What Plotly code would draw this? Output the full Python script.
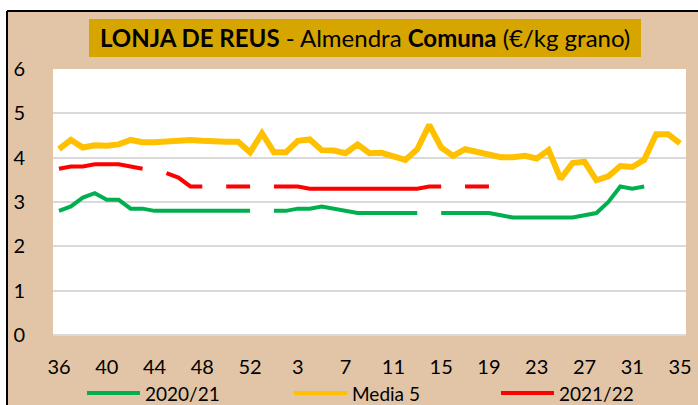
import plotly.graph_objects as go

# Semanas de campaña (36..53 de un año, 1..35 del siguiente)
weeks = ["36", "37", "38", "39", "40", "41", "42", "43", "44", "45", "46", "47",
         "48", "49", "50", "51", "52", "53", "1", "2", "3", "4", "5", "6", "7",
         "8", "9", "10", "11", "12", "13", "14", "15", "16", "17", "18", "19",
         "20", "21", "22", "23", "24", "25", "26", "27", "28", "29", "30", "31",
         "32", "33", "34", "35"]
tick_weeks = ["36", "40", "44", "48", "52", "3", "7", "11", "15", "19", "23",
              "27", "31", "35"]

# €/kg grano
c2020_21 = [2.80, 2.90, 3.10, 3.20, 3.05, 3.05, 2.85, 2.85, 2.80, 2.80, 2.80,
            2.80, 2.80, 2.80, 2.80, 2.80, 2.80, None, 2.80, 2.80, 2.85, 2.85,
            2.90, 2.85, 2.80, 2.75, 2.75, 2.75, 2.75, 2.75, 2.75, None, 2.75,
            2.75, 2.75, 2.75, 2.75, 2.70, 2.65, 2.65, 2.65, 2.65, 2.65, 2.65,
            2.70, 2.75, 3.00, 3.35, 3.30, 3.35, None, None, None]
media5 = [4.19, 4.40, 4.23, 4.28, 4.27, 4.30, 4.40, 4.35, 4.35, 4.37, 4.39,
          4.40, 4.38, 4.36, 4.36, 4.36, 4.12, 4.55, 4.12, 4.12, 4.38, 4.41,
          4.17, 4.16, 4.10, 4.30, 4.10, 4.11, 4.04, 3.95, 4.19, 4.74, 4.23,
          4.04, 4.19, 4.13, 4.06, 4.01, 4.01, 4.04, 3.98, 4.17, 3.52, 3.88,
          3.91, 3.49, 3.58, 3.81, 3.79, 3.95, 4.53, 4.53, 4.32]
c2021_22 = [3.75, 3.80, 3.80, 3.85, 3.85, 3.85, 3.80, 3.75, None, 3.65, 3.55,
            3.35, 3.35, None, 3.35, 3.35, 3.35, None, 3.35, 3.35, 3.35, 3.30,
            3.30, 3.30, 3.30, 3.30, 3.30, 3.30, 3.30, 3.30, 3.30, 3.35, 3.35,
            None, 3.35, 3.35, 3.35, None, None, None, None, None, None, None,
            None, None, None, None, None, None, None, None, None]

series = [("2020/21", c2020_21, "#00B050", 4),
          ("Media 5", media5, "#FFC000", 6),
          ("2021/22", c2021_22, "#FF0000", 4)]

W, H = 698, 405
L, R, T, B = 53, 12, 69, 70
PW, PH = W - L - R, H - T - B

BEIGE = "#E2C5A6"
GOLD = "#D6A500"
FONT = "Lato"


def px_x(x):
    return (x - L) / PW


def px_y(y):
    return (H - B - y) / PH


fig = go.Figure()
for name, vals, color, width in series:
    fig.add_trace(go.Scatter(x=weeks, y=vals, name=name, mode="lines",
                             line=dict(color=color, width=width),
                             connectgaps=False))

shapes = [
    # white strips outside the black frame
    dict(type="rect", xref="paper", yref="paper", x0=px_x(-20), x1=px_x(7),
         y0=px_y(430), y1=px_y(-20), fillcolor="white", line_width=0),
    dict(type="rect", xref="paper", yref="paper", x0=px_x(-20), x1=px_x(720),
         y0=px_y(11), y1=px_y(-20), fillcolor="white", line_width=0),
    # frame lines
    dict(type="line", xref="paper", yref="paper", x0=px_x(7), x1=px_x(7),
         y0=px_y(11), y1=px_y(430), line=dict(color="black", width=2)),
    dict(type="line", xref="paper", yref="paper", x0=px_x(7), x1=px_x(720),
         y0=px_y(11), y1=px_y(11), line=dict(color="black", width=2)),
    # title box
    dict(type="rect", xref="paper", yref="paper", x0=px_x(89), x1=px_x(641),
         y0=px_y(57), y1=px_y(19), fillcolor=GOLD, line_width=0),
]
annotations = [dict(
    text="<b>LONJA DE REUS</b> - Almendra <b>Comuna</b> (€/kg grano)",
    xref="paper", yref="paper", x=px_x(365), y=px_y(38),
    xanchor="center", yanchor="middle", showarrow=False,
    font=dict(family=FONT, size=24, color="black"))]

# legend drawn by hand (Excel style: long line sample + label)
legend_x = [87, 294, 501]
for (name, _, color, _), lx in zip(series, legend_x):
    shapes.append(dict(type="line", xref="paper", yref="paper",
                       x0=px_x(lx), x1=px_x(lx + 53), y0=px_y(393), y1=px_y(393),
                       line=dict(color=color, width=4)))
    annotations.append(dict(text=name, xref="paper", yref="paper",
                            x=px_x(lx + 56), y=px_y(393), xanchor="left",
                            yanchor="middle", showarrow=False,
                            font=dict(family=FONT, size=19, color="black")))

fig.update_layout(
    width=W, height=H,
    margin=dict(l=L, r=R, t=T, b=B, autoexpand=False),
    paper_bgcolor=BEIGE, plot_bgcolor="white",
    font=dict(family=FONT, size=20, color="black"),
    shapes=shapes, annotations=annotations,
    showlegend=False,
)
fig.update_xaxes(type="category", categoryorder="array", categoryarray=weeks,
                 range=[-0.5, len(weeks) - 0.5], automargin=False,
                 tickmode="array", tickvals=tick_weeks, ticktext=tick_weeks,
                 showgrid=False, showline=False, zeroline=False,
                 ticks="", ticklabelstandoff=18, tickfont=dict(size=20))
fig.update_yaxes(range=[0, 6], dtick=1, showgrid=True, gridcolor="#D9D9D9",
                 gridwidth=2, zeroline=True, zerolinecolor="#D9D9D9",
                 zerolinewidth=2, showline=False, ticks="", automargin=False,
                 ticklabelstandoff=27, tickfont=dict(size=20))

# the page's default 8px body margin would shift the chart
fig.write_html("out.html", config={"displayModeBar": False},
               post_script="document.body.style.margin='0';")
